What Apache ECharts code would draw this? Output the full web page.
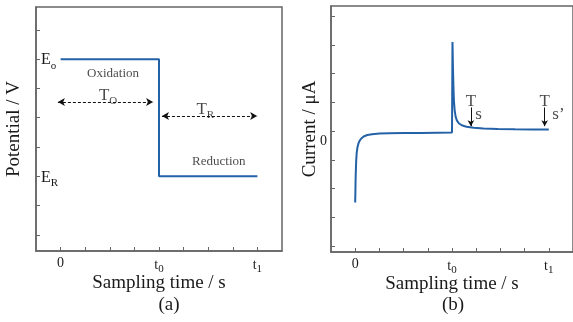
<!DOCTYPE html>
<html>
<head>
<meta charset="utf-8">
<script src="https://cdn.jsdelivr.net/npm/echarts@6/dist/echarts.min.js"></script>
<style>
  html, body { margin: 0; padding: 0; background: #fff; }
  #chart { width: 573px; height: 322px; }
</style>
</head>
<body>
<div id="chart"></div>
<script>
// shared time axis: 0 .. t1 in tick units (t0 = 4, t1 = 8)
const timeTicks = [0, 1, 2, 3, 4, 5, 6, 7, 8];
const timeLabelTicks = [0, 4, 8];
const timeLabels = { 0: '0', 4: '{t|t}{s|0}', 8: '{t|t}{s|1}' };

// (a) potential step
const stepX = [0, 4, 4, 8];
const stepY = [6, 6, 2, 2];
const potTicks = [0, 1, 2, 3, 4, 5, 6, 7];
const potLabelTicks = [6, 2];
const potLabels = { 6: '{e|E}{s|o}', 2: '{e|E}{s|R}' };

// (b) current response
const currX = [0, 0.01, 0.02, 0.04, 0.06, 0.09, 0.13, 0.18, 0.25, 0.35, 0.5, 0.7, 1.0, 1.4, 2.0, 2.7, 3.4, 4.0,
  4.02, 4.04, 4.06, 4.08, 4.11, 4.15, 4.2, 4.28, 4.4, 4.6, 4.9, 5.3, 5.9, 6.6, 7.3, 8.0];
const currY = [-2.49, -2.0, -1.55, -1.05, -0.78, -0.58, -0.44, -0.34, -0.26, -0.19, -0.14, -0.11, -0.09, -0.08, -0.07, -0.065, -0.06, -0.055,
  3.1, 2.2, 1.5, 1.05, 0.72, 0.5, 0.37, 0.27, 0.2, 0.15, 0.11, 0.09, 0.07, 0.06, 0.055, 0.05];
const curTicks = [-4, -3, -2, -1, 0, 1, 2, 3, 4];
const curLabelTicks = [0];

const SERIF = '"Liberation Serif", "Times New Roman", serif';
const BLUE = '#2462a8';
const AXIS = '#666';
const INK = '#1a1a1a';

const subRich = {
  t: { fontSize: 14, fontFamily: SERIF, color: INK, lineHeight: 16, verticalAlign: 'bottom' },
  e: { fontSize: 16, fontFamily: SERIF, color: INK, lineHeight: 18, verticalAlign: 'bottom' },
  T: { fontSize: 17, fontFamily: SERIF, color: INK, lineHeight: 18, verticalAlign: 'bottom' },
  s: { fontSize: 11, fontFamily: SERIF, color: INK, lineHeight: 14, verticalAlign: 'bottom', padding: [0, 0, -3, 0] }
};

function timeAxis(gridIndex) {
  return {
    type: 'value', gridIndex, min: -1, max: 9,
    name: 'Sampling time / s', nameLocation: 'middle', nameGap: 23, nameMoveOverlap: false,
    nameTextStyle: { fontFamily: SERIF, fontSize: 19, color: INK },
    axisLine: { show: true, onZero: false, lineStyle: { color: AXIS, width: 1.5 } },
    axisTick: { show: true, inside: true, length: 4, customValues: timeTicks, lineStyle: { color: AXIS, width: 1 } },
    axisLabel: {
      customValues: timeLabelTicks, margin: 5, fontFamily: SERIF, fontSize: 14, color: INK,
      formatter: v => timeLabels[v] || '', rich: subRich
    },
    splitLine: { show: false }
  };
}

function pairs(xs, ys) { return xs.map((x, i) => [x, ys[i]]); }

const arrowStyle = { type: [3, 2], color: '#111', width: 1 };

const option = {
  backgroundColor: '#fff',
  animation: false,
  grid: [
    { left: 36, top: 7, width: 246, height: 244, show: true, borderColor: AXIS, borderWidth: 1.5, backgroundColor: 'transparent' },
    { left: 331, top: 6, width: 244, height: 246, show: true, borderColor: AXIS, borderWidth: 1.5, backgroundColor: 'transparent' }
  ],
  xAxis: [timeAxis(0), timeAxis(1)],
  yAxis: [
    {
      type: 'value', gridIndex: 0, min: -0.55, max: 7.78,
      name: 'Potential / V', nameLocation: 'middle', nameGap: 12, nameMoveOverlap: false,
      nameTextStyle: { fontFamily: SERIF, fontSize: 19, color: INK },
      axisLine: { show: true, onZero: false, lineStyle: { color: AXIS, width: 1.5 } },
      axisTick: { show: true, inside: true, length: 4, customValues: potTicks, lineStyle: { color: AXIS, width: 1 } },
      axisLabel: {
        inside: true, customValues: potLabelTicks, margin: 5,
        formatter: v => potLabels[v] || '', rich: subRich
      },
      splitLine: { show: false }
    },
    {
      type: 'value', gridIndex: 1, min: -4.21, max: 4.35,
      name: 'Current / μA', nameLocation: 'middle', nameGap: 11, nameMoveOverlap: false,
      nameTextStyle: { fontFamily: SERIF, fontSize: 19, color: INK },
      axisLine: { show: true, onZero: false, lineStyle: { color: AXIS, width: 1.5 } },
      axisTick: { show: true, inside: true, length: 4, customValues: curTicks, lineStyle: { color: AXIS, width: 1 } },
      axisLabel: {
        customValues: curLabelTicks, margin: 4, verticalAlign: 'top', padding: [3, 0, 0, 0],
        fontFamily: SERIF, fontSize: 14, color: INK
      },
      splitLine: { show: false }
    }
  ],
  series: [
    {
      type: 'line', xAxisIndex: 0, yAxisIndex: 0,
      data: pairs(stepX, stepY), showSymbol: false, symbol: 'none',
      lineStyle: { color: BLUE, width: 2 },
      markLine: {
        silent: true, symbol: ['arrow', 'arrow'], symbolSize: [6, 7],
        lineStyle: arrowStyle, label: { show: false },
        data: [
          [{ coord: [-0.11, 4.54] }, { coord: [3.76, 4.54] }],
          [{ coord: [4.12, 4.06] }, { coord: [7.99, 4.06] }]
        ]
      }
    },
    {
      type: 'scatter', xAxisIndex: 0, yAxisIndex: 0, symbolSize: 0, silent: true,
      label: { show: true, position: 'inside', fontFamily: SERIF, color: INK, rich: subRich },
      data: [
        { value: [2.13, 5.5], label: { formatter: 'Oxidation', fontSize: 13 } },
        { value: [6.43, 2.49], label: { formatter: 'Reduction', fontSize: 13 } },
        { value: [1.93, 4.78], label: { formatter: '{T|T}{s|O}' } },
        { value: [5.88, 4.3], label: { formatter: '{T|T}{s|R}' } }
      ]
    },
    {
      type: 'line', xAxisIndex: 1, yAxisIndex: 1,
      data: pairs(currX, currY), showSymbol: false, symbol: 'none',
      lineStyle: { color: BLUE, width: 2 },
      markLine: {
        silent: true, symbol: ['none', 'arrow'], symbolSize: [5, 6],
        lineStyle: { type: 'solid', color: '#111', width: 1 }, label: { show: false },
        data: [
          [{ coord: [4.78, 0.82] }, { coord: [4.78, 0.17] }],
          [{ coord: [7.83, 0.82] }, { coord: [7.83, 0.17] }]
        ]
      }
    },
    {
      type: 'scatter', xAxisIndex: 1, yAxisIndex: 1, symbolSize: 0, silent: true,
      label: { show: true, position: 'inside', fontFamily: SERIF, color: INK, fontSize: 17 },
      data: [
        { value: [4.78, 1.03], label: { formatter: 'T' } },
        { value: [5.1, 0.56], label: { formatter: 's' } },
        { value: [7.83, 1.03], label: { formatter: 'T' } },
        { value: [8.4, 0.56], label: { formatter: 's\u2019' } }
      ]
    }
  ],
  graphic: [
    { type: 'text', x: 169, y: 305, style: { text: '(a)', font: '19px ' + SERIF, fill: INK, align: 'center', verticalAlign: 'middle' } },
    { type: 'text', x: 453, y: 305, style: { text: '(b)', font: '19px ' + SERIF, fill: INK, align: 'center', verticalAlign: 'middle' } }
  ]
};

const chart = echarts.init(document.getElementById('chart'));
chart.setOption(option);
</script>
</body>
</html>
